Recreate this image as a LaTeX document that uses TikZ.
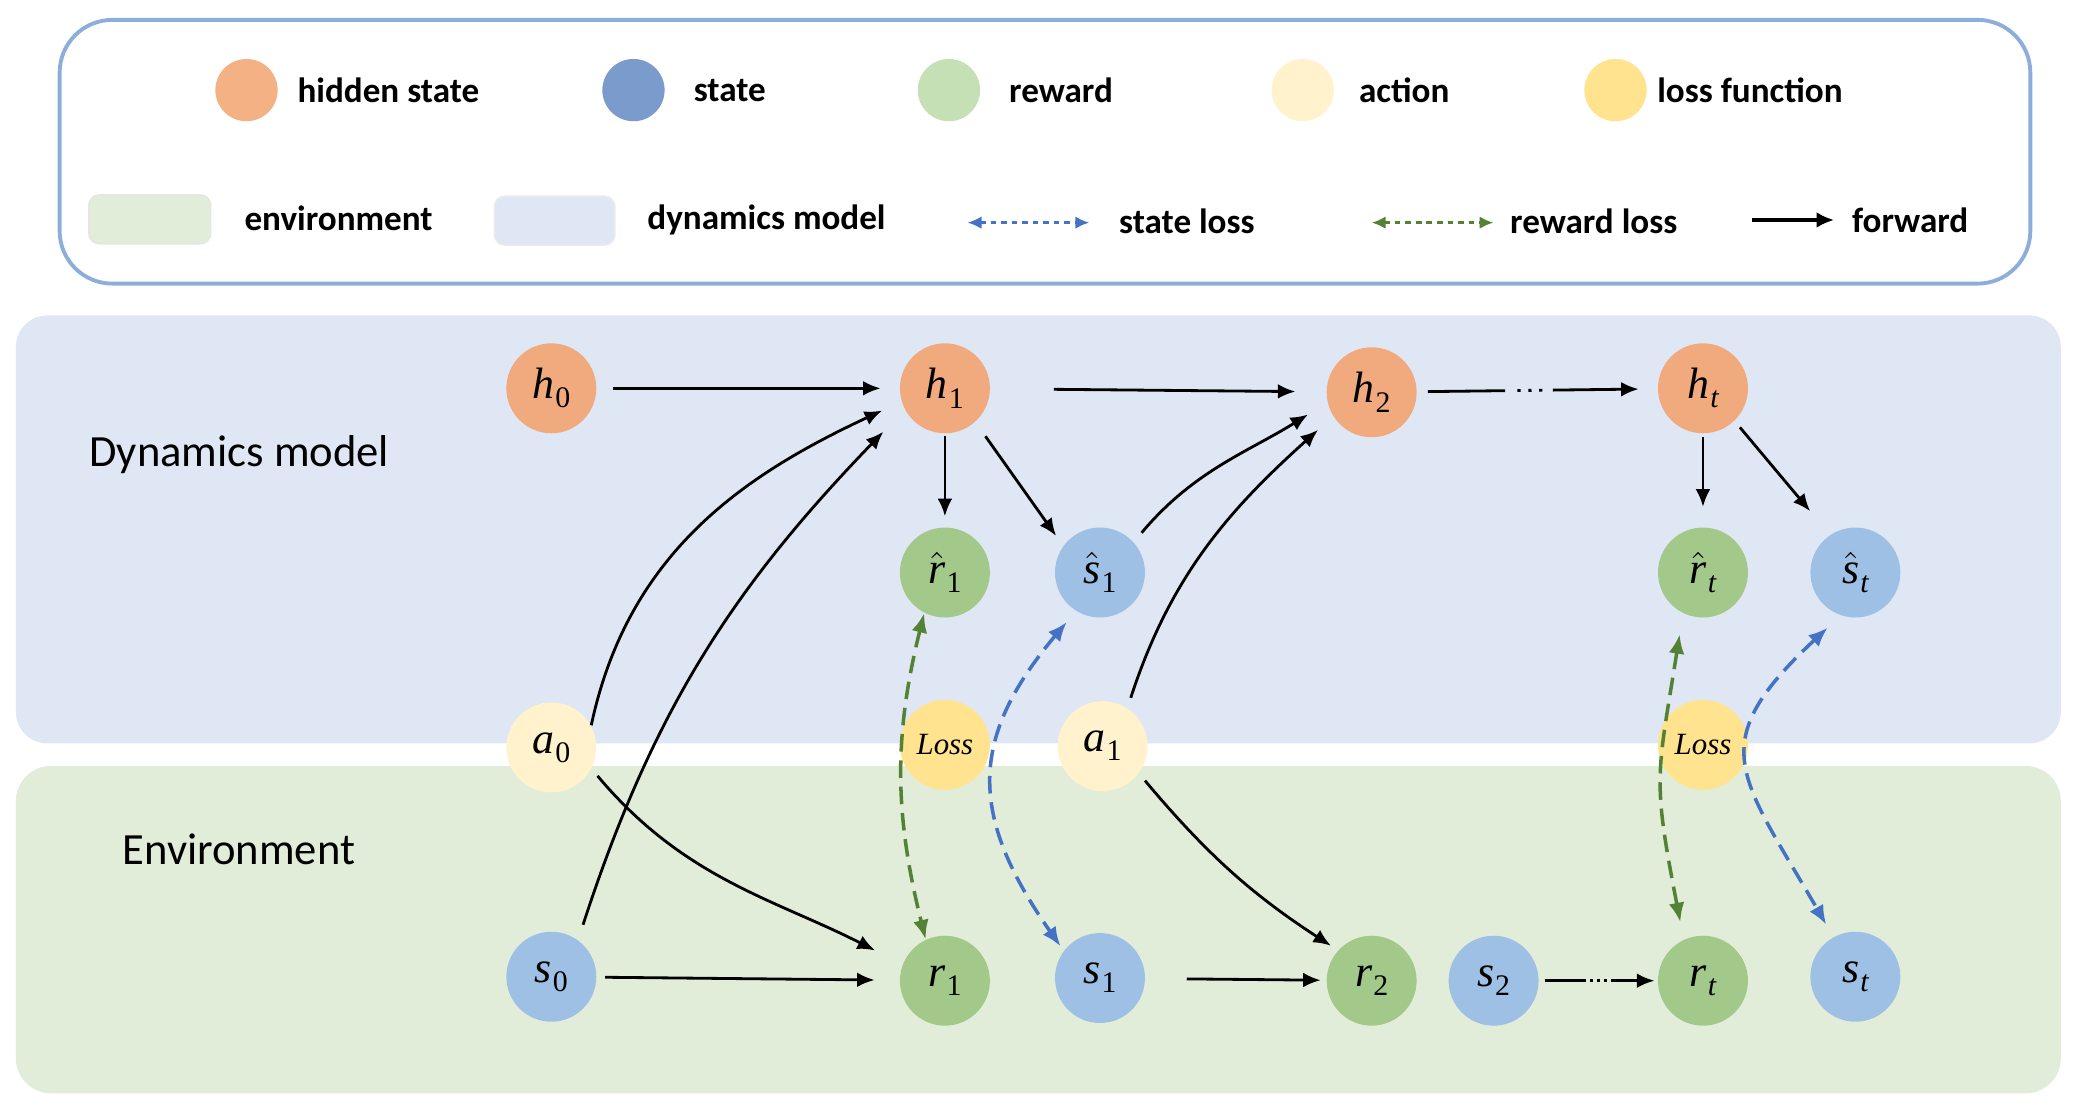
\documentclass[tikz,border=0pt]{standalone}
\usepackage{fontspec}
\setmainfont{Carlito}
\newfontfamily\tms{Liberation Serif}
\usetikzlibrary{arrows.meta}
\definecolor{hcol}{HTML}{F0AA7D}
\definecolor{hleg}{HTML}{F4B183}
\definecolor{scol}{HTML}{9EC0E4}
\definecolor{sleg}{HTML}{7A9BCB}
\definecolor{rcol}{HTML}{A2C98A}
\definecolor{rleg}{HTML}{C5E0B4}
\definecolor{acol}{HTML}{FFF2CC}
\definecolor{lcol}{HTML}{FFE38F}
\definecolor{dyncol}{HTML}{DEE7F3}
\definecolor{envcol}{HTML}{E2EDD9}
\definecolor{legbord}{HTML}{8DAEDB}
\definecolor{slossc}{HTML}{4472C4}
\definecolor{rlossc}{HTML}{548235}
\newcommand\vv[2]{{\tms\itshape #1}\kern0.3pt\raisebox{-0.45ex}{\tms\fontsize{8.5}{9}\selectfont #2}}
\newcommand\vh[2]{$\hat{\hbox{\tms\itshape #1}}$\kern0.3pt\raisebox{-0.45ex}{\tms\fontsize{8.5}{9}\selectfont #2}}
\tikzset{
  nd/.style={circle, minimum size=0.9cm, inner sep=0pt, font=\tms\fontsize{12.5}{14}\selectfont},
  hn/.style={nd, fill=hcol},
  sn/.style={nd, fill=scol},
  rn/.style={nd, fill=rcol},
  an/.style={nd, fill=acol},
  ln/.style={nd, fill=lcol, font=\tms\itshape\fontsize{8.8}{10}\selectfont},
  legc/.style={circle, minimum size=0.623cm, inner sep=0pt},
  legt/.style={anchor=west, inner sep=0pt, font=\bfseries\fontsize{10}{12}\selectfont},
  fwd/.style={-{Latex[length=5pt,width=4.2pt]}, line width=0.8pt, black},
  rloss/.style={{Latex[length=5.5pt,width=4.5pt]}-{Latex[length=5.5pt,width=4.5pt]}, line width=1pt, rlossc, dash pattern=on 5pt off 2.5pt},
  sloss/.style={{Latex[length=5.5pt,width=4.5pt]}-{Latex[length=5.5pt,width=4.5pt]}, line width=1pt, slossc, dash pattern=on 5pt off 2.5pt},
  panel/.style={font=\fontsize{12.7}{15}\selectfont, anchor=west, inner sep=0pt}
}
\begin{document}
\begin{tikzpicture}[x=0.013253cm, y=-0.013253cm]
\useasboundingbox (0,0) rectangle (1568,836);
\fill[white] (0,0) rectangle (1568,836);
% legend box
\draw[legbord, line width=1.1pt, rounded corners=15pt] (45,15) rectangle (1532,214);
\node[legc, fill=hleg] (lh) at (186,68) {};
\node[legt] (lht) at (224,68) {hidden state};
\node[legc, fill=sleg] (ls) at (478,68) {};
\node[legt] (lst) at (523,68) {state};
\node[legc, fill=rleg] (lr) at (716,68) {};
\node[legt] (lrt) at (761,68) {reward};
\node[legc, fill=acol] (la) at (983,68) {};
\node[legt] (lat) at (1025,68) {action};
\node[legc, fill=lcol] (ll) at (1219,68) {};
\node[legt] (llt) at (1250,68) {loss function};
\draw[fill=envcol, draw=black!10, rounded corners=3pt] (67,147) rectangle (159,184);
\node[legt] (let) at (184,165) {environment};
\draw[fill=dyncol, draw=black!8, rounded corners=3pt] (373,148) rectangle (464,185);
\node[legt] (ldt) at (488,166) {dynamics model};
\coordinate (sla) at (730,168); \coordinate (slb) at (822,168);
\draw[{Latex[length=4pt,width=3.6pt]}-{Latex[length=4pt,width=3.6pt]}, slossc, line width=0.9pt, dash pattern=on 1.6pt off 1.4pt] (sla) -- (slb);
\node[legt] (lslt) at (844,167) {state loss};
\coordinate (rla) at (1035,168); \coordinate (rlb) at (1127,168);
\draw[{Latex[length=4pt,width=3.6pt]}-{Latex[length=4pt,width=3.6pt]}, rlossc, line width=0.9pt, dash pattern=on 1.6pt off 1.4pt] (rla) -- (rlb);
\node[legt] (lrlt) at (1139,167) {reward loss};
\coordinate (fa) at (1322,166); \coordinate (fb) at (1384,166);
\draw[-{Latex[length=5pt,width=4.5pt]}, line width=1.3pt] (fa) -- (fb);
\node[legt] (lft) at (1397,166) {forward};
% panels
\fill[dyncol, rounded corners=9pt] (12,238) rectangle (1555,561);
\fill[envcol, rounded corners=10pt] (12,578) rectangle (1555,825);
\node[panel] (pdyn) at (67,343) {Dynamics model};
\node[panel] (penv) at (92,641) {Environment};
% nodes
\node[hn] (h0) at (416,293) {\vv{h}{0}};
\node[hn] (h1) at (713,293) {\vv{h}{1}};
\node[hn] (h2) at (1035,296) {\vv{h}{2}};
\node[hn] (ht) at (1285,293) {\vv{h}{\itshape t}};
\node[rn] (rh1) at (713,432) {\vh{r}{1}};
\node[sn] (sh1) at (830,432) {\vh{s}{1}};
\node[rn] (rht) at (1285,432) {\vh{r}{\itshape t}};
\node[sn] (sht) at (1400,432) {\vh{s}{\itshape t}};
\node[an] (a0) at (416,564) {\vv{a}{0}};
\node[ln] (loss1) at (713,562) {Loss};
\node[an] (a1) at (832,563) {\vv{a}{1}};
\node[ln] (losst) at (1285,562) {Loss};
\node[sn] (s0) at (416,737) {\vv{s}{0}};
\node[rn] (r1) at (713,740) {\vv{r}{1}};
\node[sn] (s1) at (830,738) {\vv{s}{1}};
\node[rn] (r2) at (1035,740) {\vv{r}{2}};
\node[sn] (s2) at (1127,740) {\vv{s}{2}};
\node[rn] (rt) at (1285,740) {\vv{r}{\itshape t}};
\node[sn] (st) at (1400,737) {\vv{s}{\itshape t}};
% forward arrows
\draw[fwd, shorten <=4.5pt, shorten >=5.3pt] (h0) -- (h1);
\draw[fwd, shorten <=18pt, shorten >=8.7pt] (h1) -- (h2);
\draw[fwd, shorten <=3pt, shorten >=5.3pt, dash pattern=on 22pt off 3.5pt on 0.9pt off 2.2pt on 0.9pt off 2.2pt on 0.9pt off 3pt on 200pt] (h2) -- (ht);
\draw[fwd, shorten >=6pt] (a0.29) to[out=78,in=205] (h1.197);
\draw[fwd, shorten <=4.5pt, shorten >=8.7pt] (s0.54) to[out=72,in=226] (h1.208);
\draw[fwd, shorten <=2.6pt, shorten >=8.7pt] (a0.332) to[out=-50,in=153] (r1.159);
\draw[fwd, shorten <=2.3pt, shorten >=7pt] (s0) -- (r1);
\draw[fwd, shorten <=0.5pt, shorten >=3pt] (h1) -- (rh1);
\draw[fwd, shorten <=4.9pt, shorten >=3.4pt] (h1.-48) -- (sh1.144);
\draw[fwd, shorten <=3.4pt, shorten >=6.4pt] (sh1.42) to[out=50,in=212] (h2.193);
\draw[fwd, shorten <=3pt, shorten >=5.7pt] (a1.57) to[out=72,in=222] (h2.212);
\draw[fwd, shorten <=2.6pt, shorten >=2.3pt] (a1.-37) to[out=-50,in=147] (r2.138);
\draw[fwd, shorten <=11.7pt, shorten >=1.5pt] (s1) -- (r2);
\draw[fwd, shorten <=1pt, shorten >=5.7pt] (ht) -- (rht);
\draw[fwd, shorten <=2.3pt, shorten >=8.7pt] (ht.-46) -- (sht.124);
\draw[fwd, shorten <=1.5pt, shorten >=0.8pt, dash pattern=on 11.7pt off 1.2pt on 0.8pt off 1.2pt on 0.8pt off 1.2pt on 0.8pt off 1.2pt on 100pt] (s2) -- (rt);
% loss arrows
\draw[rloss] (rh1.243) to[out=-104,in=104] (r1.115);
\draw[sloss, shorten <=4pt, shorten >=1.5pt] (sh1.238) to[out=230,in=125,looseness=1.25] (s1.143);
\draw[rloss, shorten <=6pt, shorten >=5pt] (rht.244) to[out=261,in=101,looseness=1.3] (rt.115);
\draw[sloss, shorten <=5pt, shorten >=4pt] (sht.251.5) to[out=223,in=120,looseness=1.5] (st.119);
\end{tikzpicture}
\end{document}
